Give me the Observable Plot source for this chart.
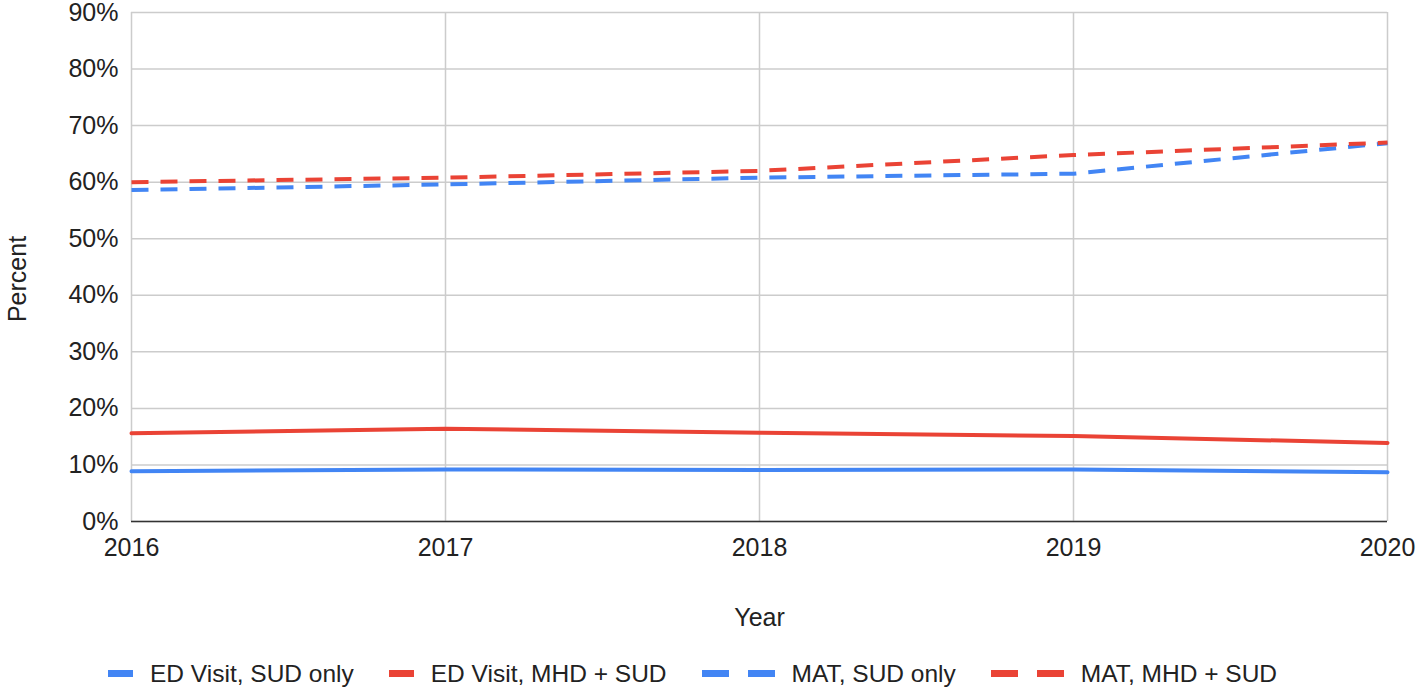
<!DOCTYPE html>
<html><head><meta charset="utf-8">
<script src="https://cdn.jsdelivr.net/npm/d3@7"></script>
<script src="https://cdn.jsdelivr.net/npm/@observablehq/plot@0.6"></script>
<style>
body{margin:0;background:#fff;font-family:"Liberation Sans",Arial,sans-serif;}
#wrap{position:relative;width:1416px;height:687px;overflow:hidden;}
#legend{position:absolute;left:108px;top:661px;display:flex;align-items:center;font-size:24.5px;color:#222;line-height:25px;white-space:nowrap;}
.item{display:flex;align-items:center;margin-right:35px;}
.item svg{margin-right:17px;display:block;}
</style></head><body><div id="wrap"><div id="chart"></div><div id="legend"></div></div>
<script>
const years = [2016, 2017, 2018, 2019, 2020];
const edSudOnly = [8.9, 9.2, 9.1, 9.2, 8.7];
const edMhdSud = [15.6, 16.4, 15.7, 15.1, 13.9];
const matSudOnly = [58.6, 59.6, 60.8, 61.5, 66.9];
const matMhdSud = [60.0, 60.8, 62.0, 64.8, 67.0];
const seriesNames = ["ED Visit, SUD only", "ED Visit, MHD + SUD", "MAT, SUD only", "MAT, MHD + SUD"];
const seriesColors = ["#4285F4", "#EA4335", "#4285F4", "#EA4335"];
const seriesDashed = [false, false, true, true];
const yTicks = [0, 10, 20, 30, 40, 50, 60, 70, 80, 90];
const xLabel = "Year";
const yLabel = "Percent";

const seriesValues = [edSudOnly, edMhdSud, matSudOnly, matMhdSud];
const data = [];
seriesNames.forEach((name, i) => {
  years.forEach((yr, j) => data.push({series: name, year: yr, value: seriesValues[i][j]}));
});

const lineMarks = seriesNames.map((name, i) =>
  Plot.line(data.filter(d => d.series === name), {
    x: "year", y: "value",
    stroke: seriesColors[i], strokeWidth: 4,
    strokeDasharray: seriesDashed[i] ? "17,12" : null,
    strokeLinecap: seriesDashed[i] ? "butt" : "round",
    strokeLinejoin: "round"
  })
);

const chart = Plot.plot({
  width: 1416, height: 645,
  marginLeft: 131, marginRight: 29, marginTop: 12, marginBottom: 124,
  style: {fontFamily: '"Liberation Sans", Arial, sans-serif', fontSize: "25px", color: "#222", background: "#fff", overflow: "visible"},
  x: {domain: [2016, 2020]},
  y: {domain: [0, 90]},
  marks: [
    Plot.gridY(yTicks, {stroke: "#ccc", strokeOpacity: 1, strokeWidth: 1.5}),
    Plot.gridX(years, {stroke: "#ccc", strokeOpacity: 1, strokeWidth: 1.5}),
    Plot.ruleY([0], {stroke: "#333", strokeWidth: 1.3}),
    ...lineMarks,
    Plot.axisY(yTicks, {tickSize: 0, tickPadding: 13, tickFormat: d => d + "%", fontSize: 25, label: null}),
    Plot.axisX(years, {tickSize: 0, tickPadding: 17, tickFormat: d => String(d), fontSize: 25, label: null}),
    Plot.text([yLabel], {frameAnchor: "left", text: d => d, rotate: -90, textAnchor: "middle", lineAnchor: "middle", dx: -114, dy: 12, fontSize: 25, fill: "#222"}),
    Plot.text([xLabel], {frameAnchor: "bottom", text: d => d, dy: 104, fontSize: 25, fill: "#222"})
  ]
});
document.getElementById("chart").appendChild(chart);

const legend = document.getElementById("legend");
seriesNames.forEach((name, i) => {
  const item = document.createElement("div");
  item.className = "item";
  const w = seriesDashed[i] ? 73 : 25;
  let sw = `<svg width="${w}" height="7">`;
  if (seriesDashed[i]) {
    sw += `<rect x="0" y="0" width="27" height="7" fill="${seriesColors[i]}"/><rect x="46" y="0" width="27" height="7" fill="${seriesColors[i]}"/>`;
  } else {
    sw += `<rect x="0" y="0" width="25" height="7" fill="${seriesColors[i]}"/>`;
  }
  sw += `</svg>`;
  item.innerHTML = sw + `<span>${name}</span>`;
  legend.appendChild(item);
});
</script>
</body></html>
